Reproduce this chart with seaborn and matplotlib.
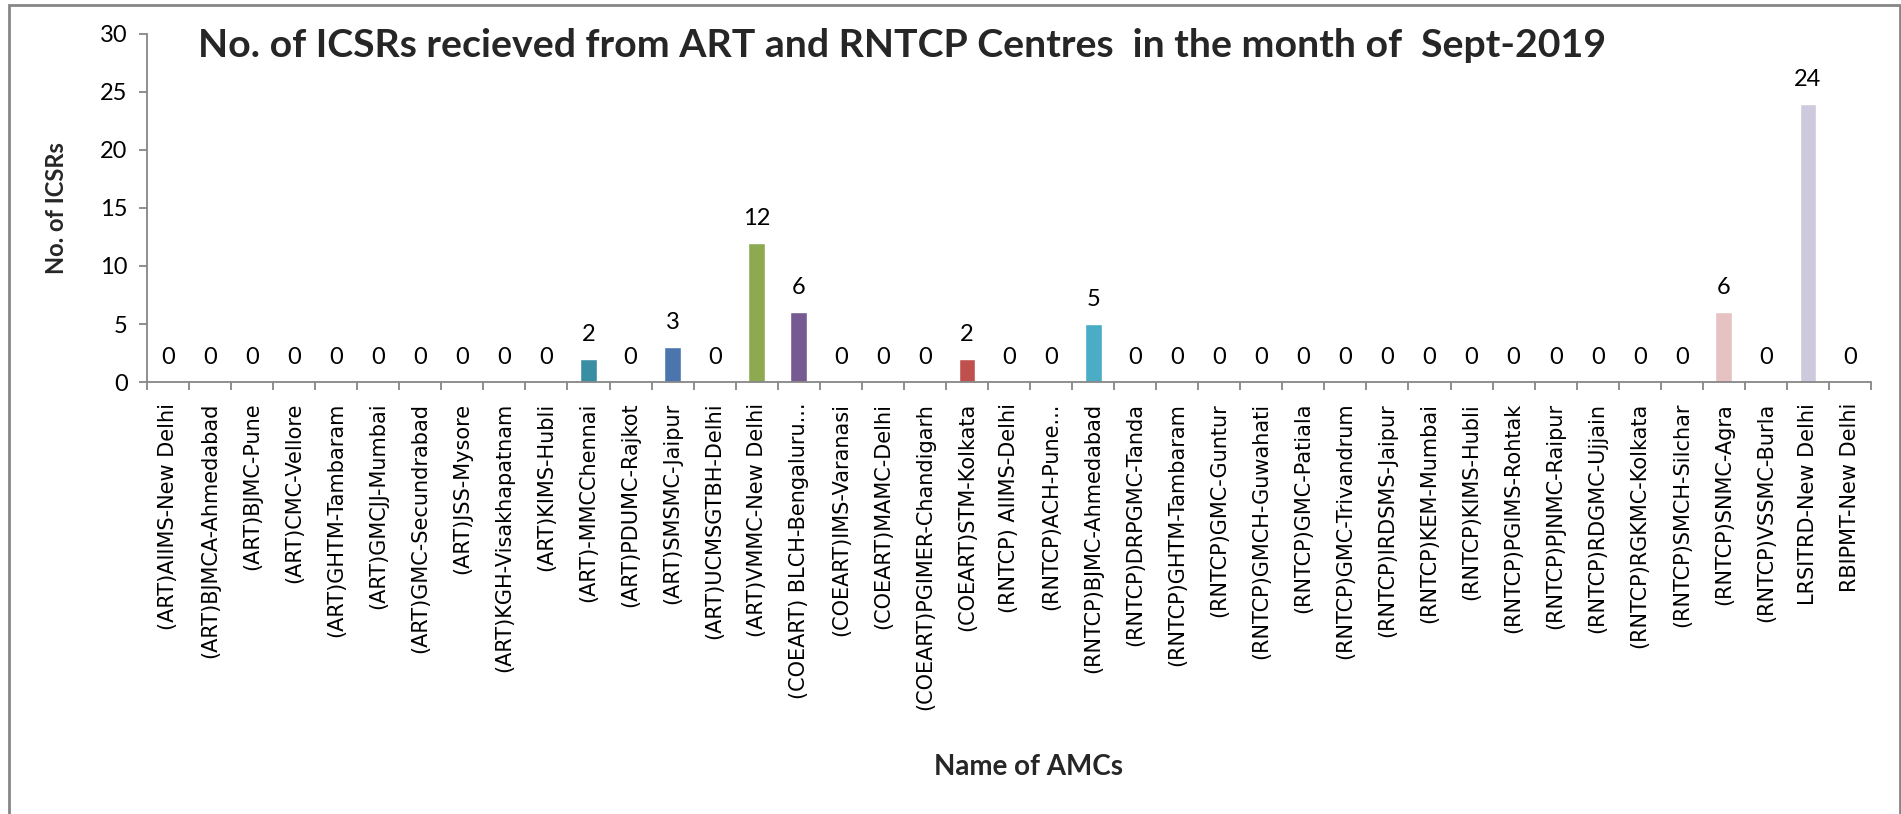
import matplotlib
matplotlib.use("Agg")
import matplotlib.pyplot as plt
import matplotlib.patches as mpatches
from matplotlib import font_manager
from matplotlib.ticker import FixedLocator, NullFormatter
import seaborn as sns
import pandas as pd

centres = [
    "(ART)AIIMS-New Delhi", "(ART)BJMCA-Ahmedabad", "(ART)BJMC-Pune", "(ART)CMC-Vellore",
    "(ART)GHTM-Tambaram", "(ART)GMCJJ-Mumbai", "(ART)GMC-Secundrabad", "(ART)JSS-Mysore",
    "(ART)KGH-Visakhapatnam", "(ART)KIMS-Hubli", "(ART)-MMCChennai", "(ART)PDUMC-Rajkot",
    "(ART)SMSMC-Jaipur", "(ART)UCMSGTBH-Delhi", "(ART)VMMC-New Delhi", "(COEART) BLCH-Bengaluru...",
    "(COEART)IMS-Varanasi", "(COEART)MAMC-Delhi", "(COEART)PGIMER-Chandigarh", "(COEART)STM-Kolkata",
    "(RNTCP) AIIMS-Delhi", "(RNTCP)ACH-Pune...", "(RNTCP)BJMC-Ahmedabad", "(RNTCP)DRPGMC-Tanda",
    "(RNTCP)GHTM-Tambaram", "(RNTCP)GMC-Guntur", "(RNTCP)GMCH-Guwahati", "(RNTCP)GMC-Patiala",
    "(RNTCP)GMC-Trivandrum", "(RNTCP)IRDSMS-Jaipur", "(RNTCP)KEM-Mumbai", "(RNTCP)KIMS-Hubli",
    "(RNTCP)PGIMS-Rohtak", "(RNTCP)PJNMC-Raipur", "(RNTCP)RDGMC-Ujjain", "(RNTCP)RGKMC-Kolkata",
    "(RNTCP)SMCH-Silchar", "(RNTCP)SNMC-Agra", "(RNTCP)VSSMC-Burla", "LRSITRD-New Delhi",
    "RBIPMT-New Delhi",
]
icsrs = [0, 0, 0, 0, 0, 0, 0, 0, 0, 0, 2, 0, 3, 0, 12, 6, 0, 0, 0, 2,
         0, 0, 5, 0, 0, 0, 0, 0, 0, 0, 0, 0, 0, 0, 0, 0, 0, 6, 0, 24, 0]

bar_colors = {
    "(ART)-MMCChennai": "#3A8EA4",
    "(ART)SMSMC-Jaipur": "#4A76AD",
    "(ART)VMMC-New Delhi": "#8EAA50",
    "(COEART) BLCH-Bengaluru...": "#765B93",
    "(COEART)STM-Kolkata": "#C0504D",
    "(RNTCP)BJMC-Ahmedabad": "#4BACC6",
    "(RNTCP)SNMC-Agra": "#E6C2C2",
    "LRSITRD-New Delhi": "#CFC9DD",
}
title = "No. of ICSRs recieved from ART and RNTCP Centres  in the month of  Sept-2019"
ylabel = "No. of ICSRs"
xlabel = "Name of AMCs"
yticks = [0, 5, 10, 15, 20, 25, 30]

df = pd.DataFrame({"centre": centres, "icsrs": icsrs})
palette = {c: bar_colors.get(c, "#4F81BD") for c in centres}

sns.set_theme(style="white")
plt.rcParams["font.family"] = ["DejaVu Sans"]

dejavu_path = font_manager.findfont(font_manager.FontProperties(family="DejaVu Sans"))
fp_ticks = font_manager.FontProperties(fname=dejavu_path, size=15)

W, H = 1901, 814
fig = plt.figure(figsize=(W / 100, H / 100), dpi=100)
ax = fig.add_axes([147 / W, 1 - 382 / H, (1871 - 147) / W, (382 - 34) / H])

sns.barplot(data=df, x="centre", y="icsrs", hue="centre", palette=palette,
            order=centres, hue_order=centres, width=0.4, dodge=False,
            legend=False, saturation=1, ax=ax)

ax.set_xlim(-0.5, len(centres) - 0.5)
ax.set_ylim(0, 30)
ax.set_yticks(yticks)

grey = "#868686"
for side in ["top", "right"]:
    ax.spines[side].set_visible(False)
for side in ["left", "bottom"]:
    ax.spines[side].set_color(grey)
    ax.spines[side].set_linewidth(1.3)

# category labels centred under each bar, rotated like the reference
ax.xaxis.set_major_locator(FixedLocator(list(range(len(centres)))))
ax.xaxis.set_major_formatter(NullFormatter())
ax.tick_params(axis="x", which="major", length=0)
for i, name in enumerate(centres):
    ax.annotate(name, (i, 0), xycoords=("data", "axes fraction"),
                xytext=(0, -15), textcoords="offset points",
                rotation=90, ha="center", va="top", fontproperties=fp_ticks,
                color="black", annotation_clip=False)

# tick marks between categories
ax.xaxis.set_minor_locator(FixedLocator([i - 0.5 for i in range(len(centres) + 1)]))
ax.xaxis.set_minor_formatter(NullFormatter())
ax.tick_params(axis="x", which="minor", length=6, width=1.3, color=grey, direction="out", bottom=True)
ax.tick_params(axis="y", length=6, width=1.3, color=grey, direction="out", left=True,
               labelsize=17, pad=8, labelfontfamily="Lato", labelcolor="black")

for i, v in enumerate(icsrs):
    ax.annotate(str(v), (i, v), xytext=(0, 13), textcoords="offset points",
                ha="center", va="baseline", fontsize=17, family="Lato", color="black")

ax.set_xlabel("")
ax.set_ylabel("")
fig.text(57 / W, 1 - 208 / H, ylabel, rotation=90, ha="center", va="center",
         fontsize=17, fontweight="bold", family="Lato")
fig.text(1029 / W, 1 - 767 / H, xlabel, ha="center", va="center",
         fontsize=20, fontweight="bold", family="Lato")

fig.text(198 / W, 1 - 57 / H, title, ha="left", va="baseline",
         fontsize=28.3, fontweight="bold", family="Lato")

# outer chart border
fig.patches.append(mpatches.Rectangle((9 / W, -0.01), (1900 - 9) / W, 1 - 5 / H + 0.01,
                                      transform=fig.transFigure, fill=False,
                                      edgecolor=grey, linewidth=2))

fig.savefig("out.png", dpi=100)
